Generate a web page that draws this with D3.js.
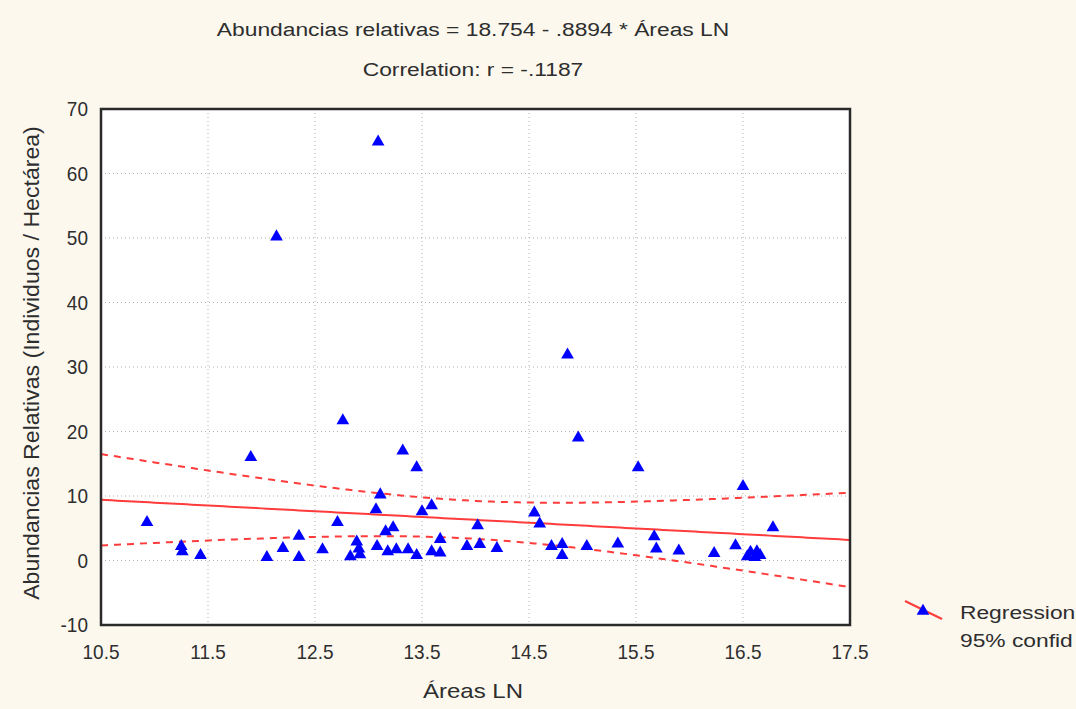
<!DOCTYPE html>
<html>
<head>
<meta charset="utf-8">
<script src="https://cdn.jsdelivr.net/npm/d3@7"></script>
<style>
  body { margin: 0; background: #fcf8ee; }
  svg text { font-family: "Liberation Sans", Arial, sans-serif; fill: #2e2e2e; }
</style>
</head>
<body>
<svg></svg>
<script>
const areasLN = [10.93, 11.25, 11.26, 11.43, 11.90, 12.05, 12.14, 12.20, 12.35, 12.35,
  12.57, 12.71, 12.76, 12.83, 12.89, 12.91, 12.92, 13.07, 13.08, 13.09,
  13.11, 13.16, 13.18, 13.23, 13.26, 13.32, 13.37, 13.45, 13.45, 13.50,
  13.59, 13.59, 13.67, 13.67, 13.92, 14.02, 14.04, 14.20, 14.55, 14.60,
  14.71, 14.81, 14.81, 14.86, 14.96, 15.04, 15.33, 15.52, 15.67, 15.69,
  15.90, 16.23, 16.43, 16.50, 16.54, 16.57, 16.61, 16.63, 16.66, 16.78];
const abundancias = [5.9, 2.2, 1.4, 0.8, 16.0, 0.5, 50.2, 1.9, 3.8, 0.5,
  1.7, 5.9, 21.7, 0.6, 2.9, 1.8, 0.9, 7.9, 2.2, 64.9,
  10.2, 4.5, 1.4, 5.1, 1.7, 17.0, 1.7, 14.4, 0.8, 7.6,
  8.5, 1.4, 3.3, 1.2, 2.2, 5.4, 2.5, 1.9, 7.4, 5.7,
  2.2, 2.5, 0.8, 31.9, 19.0, 2.2, 2.6, 14.4, 3.7, 1.8,
  1.5, 1.1, 2.3, 11.5, 0.6, 1.3, 0.5, 1.4, 0.8, 5.1];
const coef = [18.754, -0.8894];   // intercept, slope
const xTicks = [10.5, 11.5, 12.5, 13.5, 14.5, 15.5, 16.5, 17.5];
const yTicks = [-10, 0, 10, 20, 30, 40, 50, 60, 70];
const legendLabels = ['Regression', '95% confid'];

const width = 1076, height = 709;
const mLeft = 101, mRight = 850, mTop = 109, mBottom = 625;
const sx = 1.2; // text in the picture is stretched horizontally

const svg = d3.select('svg').attr('width', width).attr('height', height);
svg.append('rect').attr('width', width).attr('height', height).attr('fill', '#fcf8ee');

const x = d3.scaleLinear().domain([10.5, 17.5]).range([mLeft, mRight]);
const y = d3.scaleLinear().domain([-10, 70]).range([mBottom, mTop]);

function label(px, py, s, size, anchor, stretch) {
  return svg.append('text')
    .attr('transform', `translate(${px},${py}) scale(${stretch},1)`)
    .attr('text-anchor', anchor)
    .style('font-size', size + 'px')
    .text(s);
}

svg.append('rect')
  .attr('x', mLeft).attr('y', mTop)
  .attr('width', mRight - mLeft).attr('height', mBottom - mTop)
  .attr('fill', '#fff');

// grid
svg.append('g').selectAll('line')
  .data(xTicks.slice(1, -1))
  .enter().append('line')
  .attr('x1', d => x(d)).attr('x2', d => x(d))
  .attr('y1', mTop).attr('y2', mBottom)
  .attr('stroke', '#b0b0b0').attr('stroke-dasharray', '1,3');
svg.append('g').selectAll('line')
  .data(yTicks.slice(1, -1))
  .enter().append('line')
  .attr('y1', d => y(d)).attr('y2', d => y(d))
  .attr('x1', mLeft).attr('x2', mRight)
  .attr('stroke', '#b0b0b0').attr('stroke-dasharray', '1,3');

// regression and 95% confidence band
const n = areasLN.length;
const xbar = d3.mean(areasLN);
const sxx = d3.sum(areasLN, v => (v - xbar) ** 2);
const pred = v => coef[0] + coef[1] * v;
const sse = d3.sum(areasLN, (v, i) => (abundancias[i] - pred(v)) ** 2);
const se = Math.sqrt(sse / (n - 2));
const tval = 2.0;
const grid = d3.range(10.5, 17.5001, 0.05);
const half = v => tval * se * Math.sqrt(1 / n + (v - xbar) ** 2 / sxx);

const line = d3.line().x(d => x(d[0])).y(d => y(d[1]));
const plot = svg.append('g');
plot.append('path')
  .attr('d', line(grid.map(v => [v, pred(v)])))
  .attr('fill', 'none').attr('stroke', '#ff3b3b').attr('stroke-width', 2);
[1, -1].forEach(sign => {
  plot.append('path')
    .attr('d', line(grid.map(v => [v, pred(v) + sign * half(v)])))
    .attr('fill', 'none').attr('stroke', '#ff3b3b').attr('stroke-width', 2)
    .attr('stroke-dasharray', '7,6');
});

// points
const tri = d3.symbol().type(d3.symbolTriangle).size(70);
plot.selectAll('.pt')
  .data(areasLN)
  .enter().append('path')
  .attr('class', 'pt')
  .attr('d', tri)
  .attr('transform', (d, i) => `translate(${x(d)},${y(abundancias[i])})`)
  .attr('fill', '#0000ff');

// frame
svg.append('rect')
  .attr('x', mLeft).attr('y', mTop)
  .attr('width', mRight - mLeft).attr('height', mBottom - mTop)
  .attr('fill', 'none').attr('stroke', '#2a2a2a').attr('stroke-width', 2.5);

// tick labels
xTicks.forEach(t => label(x(t), 659, t.toFixed(1), 20, 'middle', 0.95));
yTicks.forEach(t => label(88, y(t) + 7, t, 20, 'end', 0.95));

// titles
label(473, 36, 'Abundancias relativas = 18.754 - .8894 * Áreas LN', 19, 'middle', sx);
label(473, 76, 'Correlation: r = -.1187', 19, 'middle', sx);
label(473, 698, 'Áreas LN', 20, 'middle', sx);
svg.append('text')
  .attr('transform', 'translate(39,363) rotate(-90) scale(1.05,1)')
  .attr('text-anchor', 'middle')
  .style('font-size', '22px')
  .text('Abundancias Relativas (Individuos / Hectárea)');

// legend
svg.append('line')
  .attr('x1', 905).attr('y1', 601).attr('x2', 942).attr('y2', 619)
  .attr('stroke', '#ff3b3b').attr('stroke-width', 2);
svg.append('path').attr('d', tri)
  .attr('transform', 'translate(923,611)').attr('fill', '#0000ff');
legendLabels.forEach((s, i) => label(960, 619 + i * 28, s, 19, 'start', sx));
</script>
</body>
</html>
